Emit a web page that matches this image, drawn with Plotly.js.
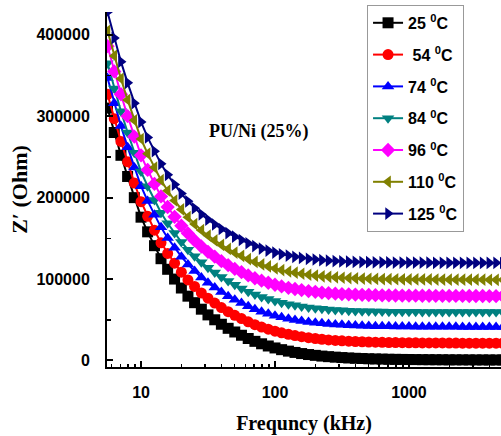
<!DOCTYPE html>
<html><head><meta charset="utf-8">
<script src="https://cdn.plot.ly/plotly-3.0.1.min.js"></script>
<style>html,body{margin:0;padding:0;background:#fff}#chart{width:501px;height:436px}</style>
</head><body><div id="chart"></div>
<script>
const freq = [5.62,6.31,7.08,7.94,8.91,10,11.2,12.6,14.1,15.8,17.8,20.0,22.4,25.1,28.2,31.6,35.5,39.8,44.7,50.1,56.2,63.1,70.8,79.4,89.1,100,112,126,141,158,178,200,224,251,282,316,355,398,447,501,562,631,708,794,891,1000,1122,1259,1413,1585,1778,1995,2239,2512,2818,3162,3548,3981,4467,5012];
const z25 = [310000,280000,252000,226000,200000,176000,158000,141000,125000,112000,100000,89000,79000,71000,63000,56000,50000,44500,39500,35000,31000,27000,23500,20500,17800,15400,13300,11500,9900,8500,7300,6300,5400,4700,4100,3600,3100,2700,2400,2100,1900,1700,1500,1400,1300,1200,1100,1000,950,900,850,800,780,750,720,700,680,660,650,640];
const z54 = [327000,297000,269000,244000,218000,195000,177000,160000,144500,131500,119500,108500,99000,91000,83000,76500,70500,65000,60000,55500,51500,47500,44000,41000,38500,36000,34000,32200,30600,29200,28000,27000,26100,25300,24700,24200,23700,23300,23000,22700,22500,22300,22100,22000,21900,21800,21700,21600,21600,21500,21500,21400,21400,21300,21300,21300,21200,21200,21200,21100];
const z74 = [347000,316000,288000,262000,237000,214000,196000,179000,163500,150500,138500,127500,118000,110000,102000,95500,89500,84000,79000,74500,70500,66500,63000,60000,57500,55000,53000,51300,49800,48500,47300,46400,45600,44900,44300,43800,43400,43000,42700,42400,42200,42000,41900,41800,41700,41600,41500,41500,41400,41400,41300,41300,41300,41200,41200,41200,41100,41100,41100,41000];
const z84 = [365000,334000,306000,280000,255000,232000,214000,197000,181500,168500,156500,145500,136000,128000,120500,114000,108000,102500,97500,93000,88500,84500,81000,78000,75500,73000,71000,69200,67700,66400,65200,64200,63400,62700,62100,61600,61200,60900,60600,60400,60200,60100,60000,59900,59900,59800,59800,59700,59700,59600,59600,59600,59500,59500,59500,59400,59400,59400,59400,59300];
const z96 = [386000,355000,327000,300000,275000,252000,234000,217000,201500,188500,176500,165500,156000,147500,140000,133500,127500,122000,117000,112500,108500,104500,101000,98000,95500,93000,91000,89300,87800,86500,85300,84300,83400,82700,82100,81600,81200,80900,80600,80400,80200,80000,79900,79800,79700,79600,79600,79500,79500,79400,79400,79300,79300,79300,79200,79200,79200,79100,79100,79100];
const z110 = [405000,374000,346000,320000,295000,272000,254000,237000,221500,208500,196500,185500,176000,167500,160000,153500,147500,142000,137000,132500,128500,124500,121000,118000,115500,113000,111000,109300,107800,106500,105300,104300,103400,102700,102100,101600,101200,100900,100600,100400,100200,100000,99900,99800,99700,99600,99600,99500,99500,99400,99400,99300,99300,99300,99200,99200,99200,99100,99100,99100];
const z125 = [428000,396000,367000,341000,316000,293000,274000,257000,241500,228000,216000,205000,195500,187000,179500,173000,167000,161500,156500,152000,148000,144000,140500,137500,135000,132500,130500,128800,127300,126000,124900,124000,123200,122600,122100,121700,121400,121100,120900,120700,120600,120500,120400,120300,120300,120200,120200,120100,120100,120000,120000,120000,119900,119900,119900,119800,119800,119800,119800,119700];
const seriesNames = ["25 <sup>0</sup>C","\u00a054 <sup>0</sup>C","74 <sup>0</sup>C","84 <sup>0</sup>C","96 <sup>0</sup>C","110 <sup>0</sup>C","125 <sup>0</sup>C"];
const seriesValues = [z25,z54,z74,z84,z96,z110,z125];
const colors = ["#000000","#ff0000","#0000ff","#008080","#ff00ff","#808000","#000080"];
const symbols = ["square","circle","triangle-up","triangle-down","diamond","triangle-left","triangle-right"];
const yTicks = [0,100000,200000,300000,400000];
const xTicks = [10,100,1000];

const traces = seriesValues.map((v,i)=>({
  x: freq, y: v, type:'scatter', mode:'lines+markers', name: seriesNames[i],
  legendgroup: 'g'+i,
  line:{color:colors[i], width:2},
  marker:{color:colors[i], symbol:symbols[i], size:11, line:{width:0}}
}));

const layout = {
  width:501, height:436,
  margin:{l:107, r:0, t:12, b:69},
  paper_bgcolor:'#fff', plot_bgcolor:'#fff',
  font:{family:'Liberation Sans, Arial, sans-serif', color:'#000'},
  xaxis:{
    type:'log', range:[0.746,3.687],
    tickvals:xTicks, ticktext:xTicks.map(String),
    ticks:'inside', ticklen:6, tickwidth:2, tickcolor:'#000',
    minor:{ticks:'inside', ticklen:3, tickwidth:1.5, tickcolor:'#000', dtick:'D1', showgrid:false},
    showline:true, linewidth:2, linecolor:'#000', showgrid:false, zeroline:false,
    tickfont:{family:'Liberation Sans, Arial', size:16, weight:'bold'},
    ticklabelstandoff:10,
    title:{text:'Frequncy (kHz)', font:{family:'Liberation Serif, Times New Roman', size:20, weight:'bold'}, standoff:16}
  },
  yaxis:{
    range:[-8000,428000],
    tickvals:yTicks, ticktext:yTicks.map(String),
    ticks:'inside', ticklen:6, tickwidth:2, tickcolor:'#000',
    minor:{ticks:'inside', ticklen:4, tickwidth:1.5, tickcolor:'#000', dtick:50000, showgrid:false},
    showline:true, linewidth:2, linecolor:'#000', showgrid:false, zeroline:false,
    tickfont:{family:'Liberation Sans, Arial', size:16, weight:'bold'},
    ticklabelstandoff:12,
    title:{text:'Z\u2032 (Ohm)', font:{family:'Liberation Serif, Times New Roman', size:22, weight:'bold'}, standoff:3}
  },
  legend:{
    x:0.66, y:1.02, xanchor:'left', yanchor:'top', maxheight:1,
    bordercolor:'#999', borderwidth:1, bgcolor:'#fff',
    font:{family:'Liberation Sans, Arial', size:16, weight:'bold'},
    tracegroupgap:8
  },
  annotations:[{
    text:'PU/Ni (25%)', xref:'paper', yref:'paper', x:0.385, y:0.70, showarrow:false,
    font:{family:'Liberation Serif, Times New Roman', size:18, weight:'bold'}
  }],
  showlegend:true
};
Plotly.newPlot('chart', traces, layout, {staticPlot:true, displayModeBar:false});
</script></body></html>
